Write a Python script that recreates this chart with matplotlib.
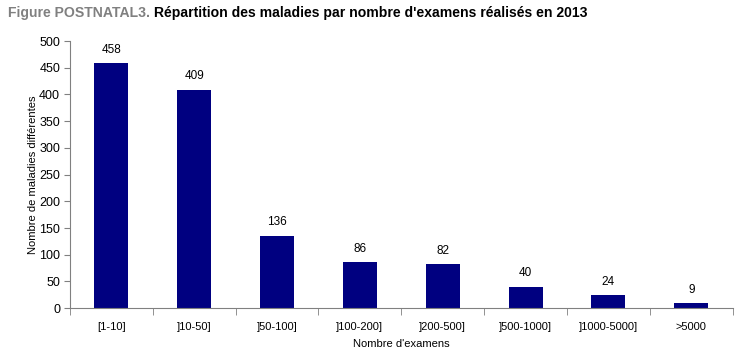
import matplotlib
matplotlib.use("Agg")
import matplotlib.pyplot as plt
import numpy as np

categories = ["[1-10]", "]10-50]", "]50-100]", "]100-200]", "]200-500]",
              "]500-1000]", "]1000-5000]", ">5000"]
values = [458, 409, 136, 86, 82, 40, 24, 9]

plt.rcParams['font.family'] = ['Liberation Sans', 'DejaVu Sans']

fig = plt.figure(figsize=(7.35, 3.6), dpi=100)
ax = fig.add_axes([0.095, 0.144, 0.902, 0.742])

x = np.arange(len(categories))
bars = ax.bar(x, values, width=0.41, color="#000080", zorder=2)
for xi, v in zip(x, values):
    ax.text(xi, v + 14, str(v), ha="center", va="bottom", fontsize=8.5, color="black")

ax.set_xlim(-0.5, len(categories) - 0.5)
ax.set_ylim(0, 500)
ax.set_yticks(np.arange(0, 501, 50))
ax.tick_params(axis="y", labelsize=9, length=4, color="#808080", pad=3)
ax.set_xticks(x)
ax.set_xticklabels(categories, fontsize=8)
ax.tick_params(axis="x", length=0, pad=10)
# ticks between categories
ax.set_xticks(np.arange(-0.5, len(categories)), minor=True)
ax.tick_params(axis="x", which="minor", length=5, color="#808080", direction="out")

for s in ["top", "right"]:
    ax.spines[s].set_visible(False)
for s in ["left", "bottom"]:
    ax.spines[s].set_color("#808080")

ax.set_ylabel("Nombre de maladies différentes", fontsize=8, labelpad=1)
ax.set_xlabel("Nombre d'examens", fontsize=8, labelpad=5)

t1 = fig.text(0.011, 0.965, "Figure POSTNATAL3.", fontsize=10.1, fontweight="bold",
              color="#808080", va="center", ha="left")
fig.canvas.draw()
bb = t1.get_window_extent().transformed(fig.transFigure.inverted())
fig.text(bb.x1 + 0.005, 0.965, "Répartition des maladies par nombre d'examens réalisés en 2013",
         fontsize=10.1, fontweight="bold", color="black", va="center", ha="left")

fig.savefig("out.png", dpi=100)
